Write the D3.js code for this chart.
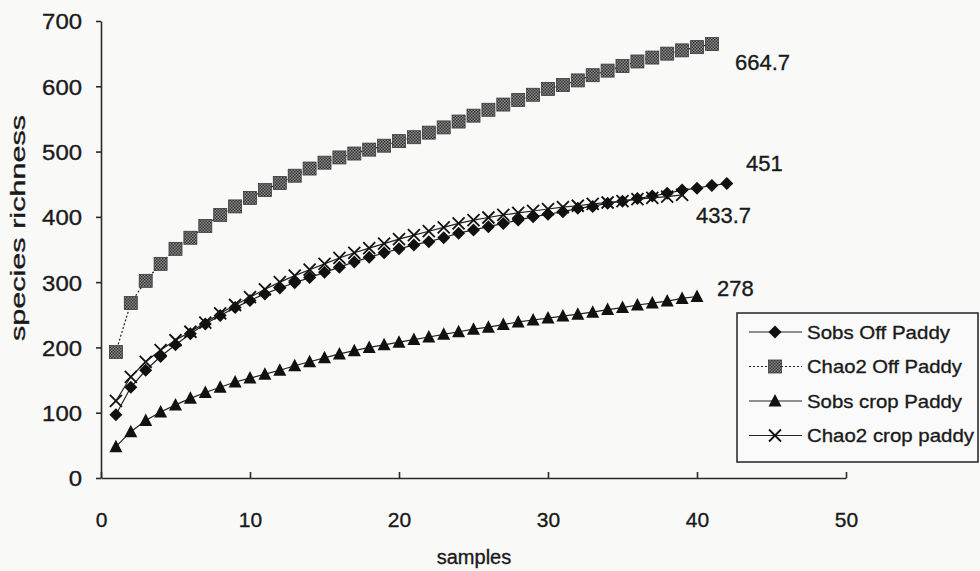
<!DOCTYPE html>
<html><head><meta charset="utf-8">
<script src="https://cdn.jsdelivr.net/npm/d3@7"></script>
<style>
html,body{margin:0;padding:0;background:#f9f9f8;}
svg{display:block;}
text{font-family:"Liberation Sans",Arial,sans-serif;fill:#1a1a1a;stroke:#1a1a1a;stroke-width:0.35px;}
</style></head>
<body>
<svg id="chart" width="980" height="571"></svg>
<script>
const sobsOff = [97,139,165,186,204,221,236,249,261,272,282,291,299,307,315,323,331,338,345,351,357,362,368,375,380,385,390,395,400,404,408,413,416,421,424,428,432,436,441,444,448,451];
const chao2Off = [193,268,302,328,351,368,386,403,416,429,441,452,463,474,483,491,497,503,509,516,522,529,537,546,555,564,572,579,587,596,602,609,617,624,631,638,644,650,655,660,664.7];
const sobsCrop = [48,71,88,101,112,122,131,139,147,153,159,165,172,178,184,190,195,200,204,208,212,216,220,224,228,231,235,239,242,245,248,251,254,258,261,265,268,271,275,278];
const chao2Crop = [118,155,178,196,211,224,238,252,265,277,289,300,310,319,328,337,345,352,359,366,372,378,384,390,395,399,403,406,409,412,415,417,420,422,424,427,429,431,433.7];
const seriesNames = ["Sobs Off Paddy","Chao2 Off Paddy","Sobs crop Paddy","Chao2 crop paddy"];
const endLabels = ["451","664.7","278","433.7"];
const xTicks = [0,10,20,30,40,50];
const yTicks = [0,100,200,300,400,500,600,700];
const xTitle = "samples";
const yTitle = "species richness";

const svg = d3.select("#chart");
const defs = svg.append("defs");
const pat = defs.append("pattern").attr("id","chk").attr("width",3).attr("height",3).attr("patternUnits","userSpaceOnUse");
pat.append("rect").attr("width",3).attr("height",3).attr("fill","#8c8c8c");
pat.append("rect").attr("width",1.5).attr("height",1.5).attr("fill","#333");
pat.append("rect").attr("x",1.5).attr("y",1.5).attr("width",1.5).attr("height",1.5).attr("fill","#333");

const x = d3.scaleLinear().domain([0,50]).range([101,846]);
const y = d3.scaleLinear().domain([0,700]).range([478,21]);

// axes
const yAxis = d3.axisLeft(y).tickValues(yTicks).tickSizeInner(5).tickSizeOuter(0).tickPadding(14);
const gy = svg.append("g").attr("transform","translate(101,0)").call(yAxis);
gy.selectAll("text").style("font-size","22px").attr("dy","0.36em")
  .attr("textLength", d => String(d).length * 13.3).attr("lengthAdjust","spacingAndGlyphs");
const xAxis = d3.axisBottom(x).tickValues(xTicks).tickSizeInner(-6).tickSizeOuter(0).tickPadding(34);
const gx = svg.append("g").attr("transform","translate(0,478)").call(xAxis);
gx.selectAll("text").style("font-size","21px");
svg.selectAll(".domain, .tick line").attr("stroke","#2a2a2a").attr("stroke-width",1.6);

svg.append("text").attr("x",474).attr("y",564).attr("text-anchor","middle").style("font-size","20px").text(xTitle);
svg.append("text").attr("transform","translate(25,228) rotate(-90)").attr("text-anchor","middle").style("font-size","20px")
  .attr("textLength",226).attr("lengthAdjust","spacingAndGlyphs").text(yTitle);

const data = [sobsOff, chao2Off, sobsCrop, chao2Crop].map(a => a.map((v,i)=>({x:i+1,y:v})));
const line = d3.line().x(d=>x(d.x)).y(d=>y(d.y));
const dashes = [null,"2,2",null,null];

function marker(g, k, cx, cy){
  if(k===0){
    g.append("path").attr("d",`M${cx},${cy-6.5}L${cx+6.5},${cy}L${cx},${cy+6.5}L${cx-6.5},${cy}Z`).attr("fill","#111");
  } else if(k===1){
    g.append("rect").attr("x",cx-6.5).attr("y",cy-6.5).attr("width",13).attr("height",13).attr("fill","url(#chk)").attr("stroke","#3a3a3a").attr("stroke-width",0.8);
  } else if(k===2){
    g.append("path").attr("d",`M${cx},${cy-7}L${cx+6.5},${cy+5.5}L${cx-6.5},${cy+5.5}Z`).attr("fill","#111");
  } else {
    g.append("path").attr("d",`M${cx-6},${cy-6}L${cx+6},${cy+6}M${cx+6},${cy-6}L${cx-6},${cy+6}`).attr("stroke","#111").attr("stroke-width",1.8).attr("fill","none");
  }
}

const order = [2,0,3,1];
order.forEach(k=>{
  svg.append("path").datum(data[k]).attr("d",line).attr("fill","none").attr("stroke","#222").attr("stroke-width",1.2).attr("stroke-dasharray",dashes[k]);
  const g = svg.append("g");
  data[k].forEach(d=>marker(g,k,x(d.x),y(d.y)));
});

// end labels
const labelPos = [[746,171],[735,70],[717,296],[696,223]];
endLabels.forEach((t,i)=>{
  svg.append("text").attr("x",labelPos[i][0]).attr("y",labelPos[i][1]).style("font-size","22px").text(t);
});

// legend
const lg = svg.append("g");
lg.append("rect").attr("x",737).attr("y",313).attr("width",241).attr("height",149).attr("fill","#fafafa").attr("stroke","#222").attr("stroke-width",1.5);
seriesNames.forEach((n,i)=>{
  const cy = 332 + i*34.5;
  lg.append("line").attr("x1",749).attr("x2",802).attr("y1",cy).attr("y2",cy).attr("stroke","#222").attr("stroke-width",1.2).attr("stroke-dasharray",dashes[i]);
  marker(lg,i,775,cy);
  lg.append("text").attr("x",807).attr("y",cy+6.5).style("font-size","19px")
    .attr("textLength", [143,155,155,167][i]).attr("lengthAdjust","spacingAndGlyphs").text(n);
});
</script>
</body></html>
